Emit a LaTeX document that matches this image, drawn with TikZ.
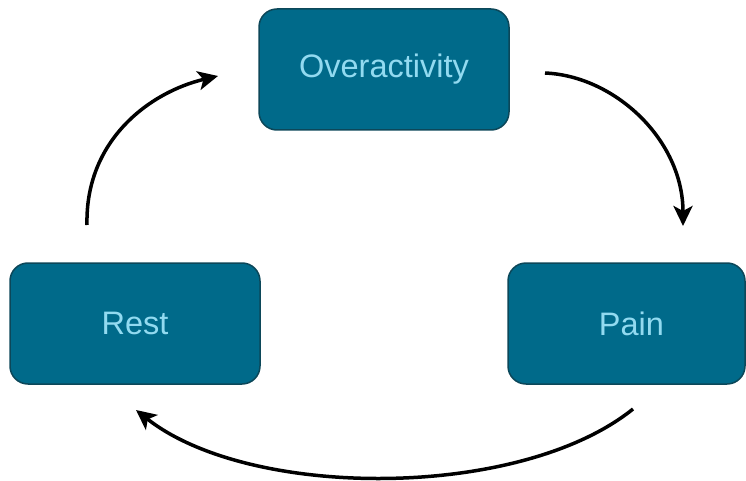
\documentclass[tikz,border=0pt]{standalone}
\usepackage{fontspec}
\setmainfont{Liberation Sans}
\usetikzlibrary{arrows.meta}
\definecolor{boxfill}{HTML}{006A8A}
\definecolor{boxline}{HTML}{0C4759}
\definecolor{boxtext}{HTML}{92DAF0}
\tikzset{
  cyclebox/.style={draw=boxline, line width=1.5pt, fill=boxfill, rounded corners=18pt,
    minimum height=121pt, inner sep=0pt, text=boxtext,
    font=\fontsize{32.5pt}{36pt}\selectfont},
  cyclearrow/.style={draw=black, line width=3.5pt, -{Stealth[length=20pt,width=19pt,inset=5pt]}}
}
\begin{document}
\begin{tikzpicture}[x=1pt,y=-1pt]
\useasboundingbox (0,0) rectangle (746,481);
\node[cyclebox, minimum width=250pt] (over) at (384,69.5) {Overactivity};
\node[cyclebox, minimum width=250pt] (rest) at (135,323.5) {Rest};
\node[cyclebox, minimum width=237pt] (pain) at (626.5,323.5) {\hspace*{10pt}Pain};
\coordinate (a1s) at (545,73);
\coordinate (a1e) at (683,226);
\coordinate (a2s) at (633,409);
\coordinate (a2e) at (136,410);
\coordinate (a3s) at (87,225);
\coordinate (a3e) at (218,76);
\draw[cyclearrow] (a1s) .. controls (615,76) and (683,140) .. (a1e);
\draw[cyclearrow] (a2s) .. controls (520,500) and (250,500) .. (a2e);
\draw[cyclearrow] (a3s) .. controls (85,140) and (150,92) .. (a3e);
\end{tikzpicture}
\end{document}
